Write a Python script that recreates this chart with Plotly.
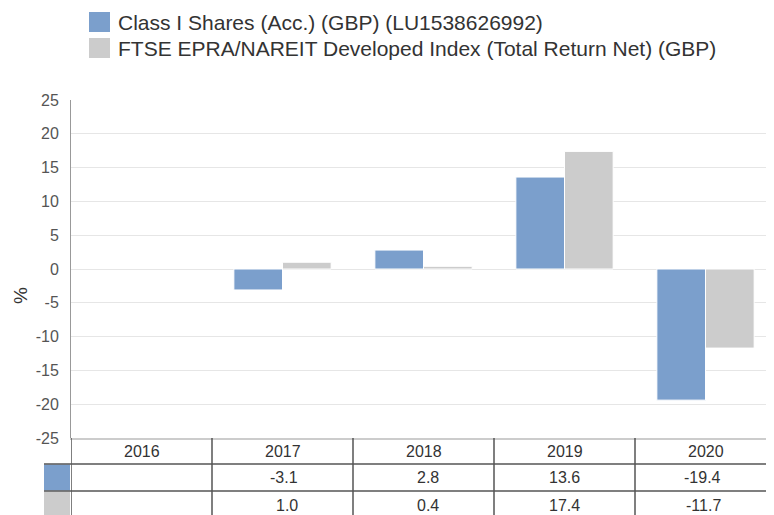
import plotly.graph_objects as go

years = ["2016", "2017", "2018", "2019", "2020"]
fund_name = "Class I Shares (Acc.) (GBP) (LU1538626992)"
index_name = "FTSE EPRA/NAREIT Developed Index (Total Return Net) (GBP)"
fund_values = [None, -3.1, 2.8, 13.6, -19.4]
index_values = [None, 1.0, 0.4, 17.4, -11.7]
y_tick_values = [-25, -20, -15, -10, -5, 0, 5, 10, 15, 20, 25]
y_tick_labels = ["-25", "-20", "-15", "-10", "-5", "0", "5", "10", "15", "20", "25"]

BLUE = "#7b9fcc"
GRAY = "#cccccc"
FONT = "Liberation Sans, Arial, sans-serif"

# the page body has an 8px margin; positions below are given in screen pixels
OFF = 8
SW, SH = 774, 515
W, H = SW - OFF, SH - OFF
PT, PB, PL = 100, 438, 71          # screen pixels of plot area
ph = PB - PT
pw = SW - PL
COLW = 141.0


def py(pix):
    return (PB - pix) / ph


def px(pix):
    return (pix - PL) / pw


xs = list(range(len(years)))

fig = go.Figure()
fig.add_bar(x=xs, y=fund_values, name=fund_name,
            marker=dict(color=BLUE, line=dict(color="white", width=1)))
fig.add_bar(x=xs, y=index_values, name=index_name,
            marker=dict(color=GRAY, line=dict(color="white", width=1)))

shapes = []
annotations = []
LINE = "#555555"
row_y = [438, 464, 491, 518]

# vertical table lines
for i in range(len(years) + 1):
    shapes.append(dict(type="line", xref="x", yref="paper", x0=i - 0.5, x1=i - 0.5,
                       y0=py(438), y1=py(522), line=dict(color=LINE, width=1.5)))
# horizontal table lines
for yy in row_y[1:3]:
    shapes.append(dict(type="line", xref="paper", yref="paper", x0=px(44), x1=1.01,
                       y0=py(yy), y1=py(yy), line=dict(color=LINE, width=1.5)))
# colour swatches in table
for k, col in enumerate([BLUE, GRAY]):
    shapes.append(dict(type="rect", xref="paper", yref="paper", x0=px(44), x1=px(70),
                       y0=py(row_y[k + 1] + 0.5), y1=py(row_y[k + 2] - 0.5),
                       fillcolor=col, line=dict(width=0), layer="below"))

# table texts
for i, yr in enumerate(years):
    annotations.append(dict(x=i, y=py(451), xref="x", yref="paper", text=yr, showarrow=False,
                            xanchor="center", yanchor="middle",
                            font=dict(size=16, color="#333333", family=FONT)))
    for k, vals in enumerate([fund_values, index_values]):
        v = vals[i]
        if v is None:
            continue
        annotations.append(dict(x=i + 17 / COLW, y=py(477 + 28 * k), xref="x", yref="paper",
                                text=f"{v:.1f}", showarrow=False,
                                xanchor="right", yanchor="middle",
                                font=dict(size=16, color="#333333", family=FONT)))

# custom legend
for k, (col, name) in enumerate([(BLUE, fund_name), (GRAY, index_name)]):
    y0 = 12 + 26 * k
    shapes.append(dict(type="rect", xref="paper", yref="paper", x0=px(89), x1=px(110),
                       y0=py(y0), y1=py(y0 + 20), fillcolor=col, line=dict(width=0)))
    annotations.append(dict(x=px(116), y=py(y0 + 10.5), xref="paper", yref="paper", text=name,
                            showarrow=False, xanchor="left", yanchor="middle",
                            font=dict(size=21, color="#333333", family=FONT)))

# y axis title
annotations.append(dict(x=px(20), y=py(296), xref="paper", yref="paper", text="%", textangle=-90,
                        showarrow=False, xanchor="center", yanchor="middle",
                        font=dict(size=19, color="#333333", family=FONT)))

fig.update_layout(
    width=W, height=H,
    margin=dict(l=PL - OFF, r=0, t=PT - OFF, b=SH - PB, pad=0, autoexpand=False),
    paper_bgcolor="white", plot_bgcolor="white",
    barmode="group", bargap=0.31, bargroupgap=0,
    showlegend=False,
    font=dict(family=FONT),
    shapes=shapes, annotations=annotations,
    xaxis=dict(range=[-0.5, -0.5 + pw / COLW], showticklabels=False, showgrid=False,
               zeroline=False, showline=True, linecolor="#cccccc", linewidth=2, fixedrange=True),
    yaxis=dict(range=[-25, 25], tickmode="array", tickvals=y_tick_values, ticktext=y_tick_labels,
               showgrid=True, gridcolor="#e6e6e6", gridwidth=1,
               zeroline=True, zerolinecolor="#e6e6e6", zerolinewidth=1,
               showline=True, linecolor="#999999", linewidth=1,
               ticks="", ticklabelstandoff=8,
               tickfont=dict(size=16, color="#555555", family=FONT), fixedrange=True),
)

fig.write_html("out.html")
